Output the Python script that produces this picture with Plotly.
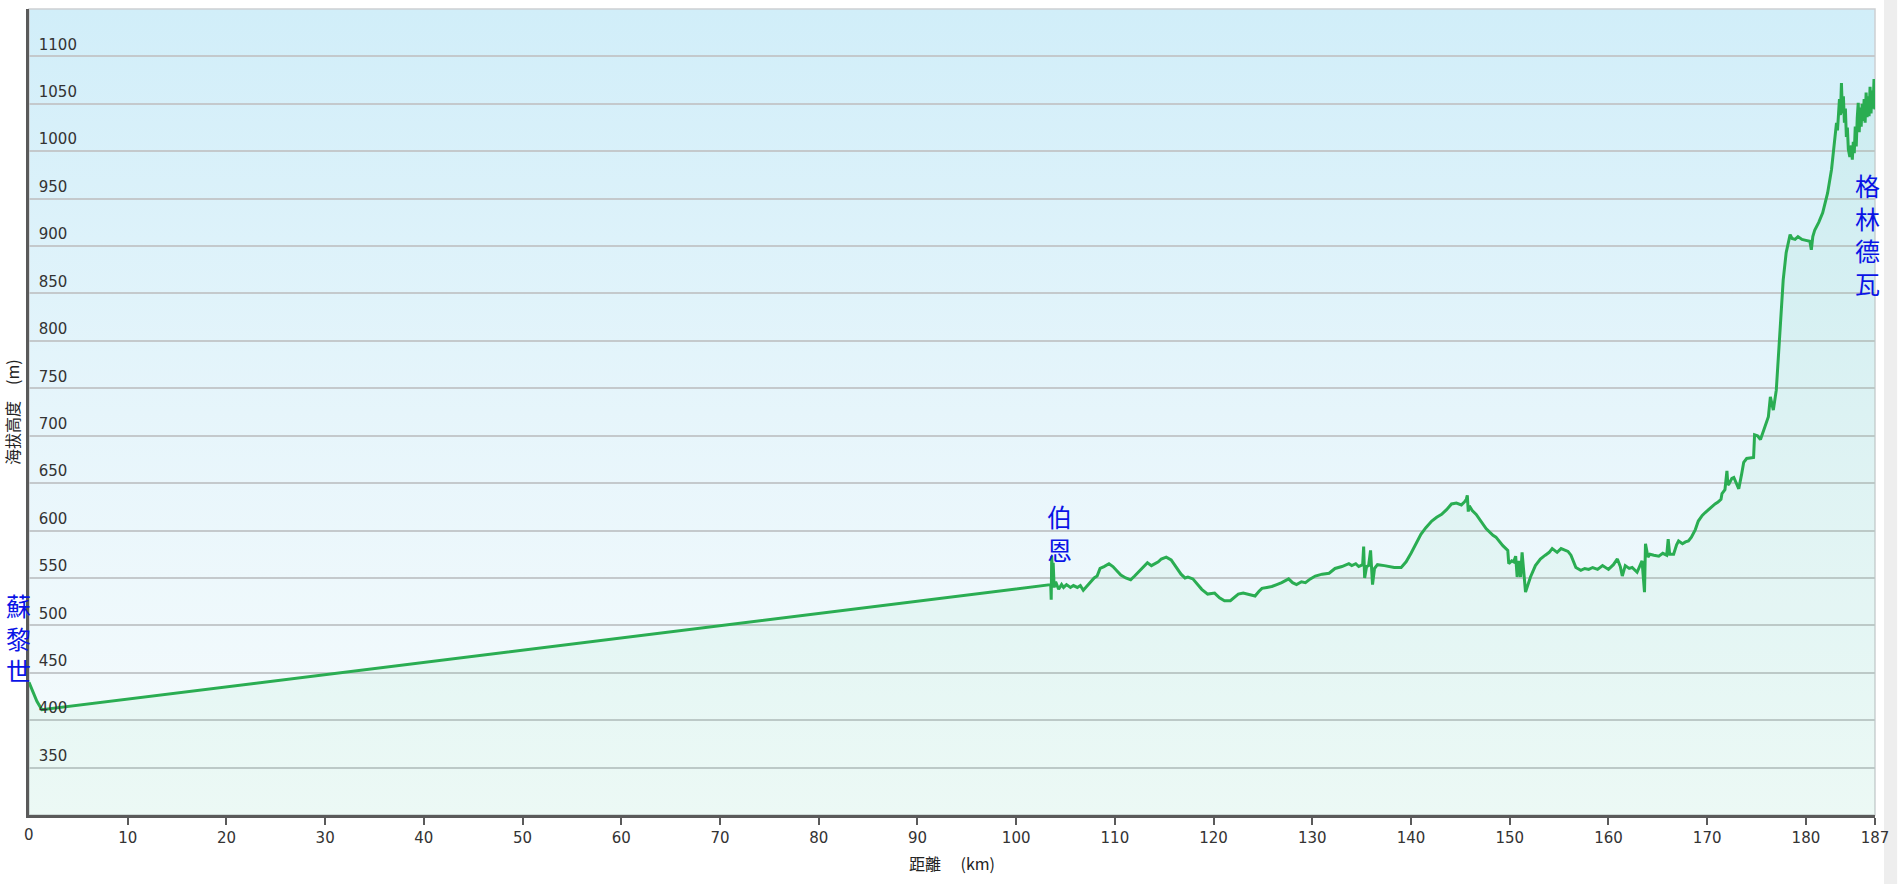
import base64
import plotly.graph_objects as go

# ---- data (distance in km, elevation in m) ----
dist_km = [
    0.0, 0.3, 0.8, 1.3, 103.5, 103.55, 103.6, 103.7, 103.75, 103.85, 104.0, 104.3, 104.6, 104.8,
    105.1, 105.5, 105.8, 106.2, 106.5, 106.8, 107.2, 107.5, 107.9, 108.2, 108.5, 108.9, 109.4,
    109.8, 110.2, 110.6, 111.1, 111.6, 112.0, 112.3, 112.8, 113.3, 113.7, 114.0, 114.4, 114.7,
    115.2, 115.7, 116.2, 116.7, 117.1, 117.4, 117.9, 118.4, 118.8, 119.4, 119.8, 120.1, 120.6,
    121.1, 121.7, 122.1, 122.5, 123.0, 123.4, 124.2, 124.6, 124.9, 125.4, 125.9, 126.4, 126.9,
    127.6, 128.0, 128.4, 128.9, 129.3, 129.8, 130.3, 131.0, 131.7, 132.3, 133.0, 133.7, 134.0,
    134.4, 134.7, 135.1, 135.2, 135.3, 135.5, 135.7, 135.9, 136.1, 136.3, 136.6, 137.3, 137.8,
    138.3, 139.0, 139.5, 140.0, 140.5, 141.0, 141.5, 142.1, 142.6, 143.1, 143.6, 144.1, 144.6,
    145.1, 145.4, 145.6, 145.7, 145.8, 145.9, 146.2, 146.6, 147.1, 147.6, 148.3, 148.6, 149.3,
    149.8, 149.9, 150.2, 150.4, 150.6, 150.75, 150.9, 151.1, 151.25, 151.6, 152.1, 152.6, 153.1,
    153.6, 154.0, 154.3, 154.8, 155.2, 155.5, 155.9, 156.2, 156.7, 157.2, 157.6, 158.0, 158.4,
    158.9, 159.4, 160.0, 160.5, 160.9, 161.2, 161.4, 161.7, 162.1, 162.4, 162.9, 163.4, 163.65,
    163.75, 164.0, 164.2, 164.6, 165.1, 165.5, 165.9, 166.05, 166.2, 166.6, 166.9, 167.1, 167.5,
    167.8, 168.1, 168.4, 168.8, 169.1, 169.5, 169.8, 170.2, 170.5, 170.8, 171.1, 171.4, 171.5,
    171.8, 172.0, 172.1, 172.2, 172.5, 172.7, 173.0, 173.2, 173.5, 173.7, 174.0, 174.4, 174.7,
    174.8, 175.1, 175.4, 175.7, 175.9, 176.2, 176.4, 176.6, 176.7, 177.0, 177.2, 177.4, 177.6,
    177.7, 178.0, 178.4, 178.6, 178.9, 179.2, 179.6, 180.0, 180.4, 180.55, 180.7, 180.9, 181.3,
    181.7, 182.0, 182.2, 182.6, 182.9, 183.1, 183.2, 183.3, 183.4, 183.5, 183.6, 183.7, 183.8,
    183.9, 184.0, 184.1, 184.2, 184.3, 184.45, 184.6, 184.7, 184.8, 184.9, 185.0, 185.1, 185.2,
    185.3, 185.4, 185.5, 185.6, 185.7, 185.8, 185.9, 186.0, 186.1, 186.2, 186.3, 186.4, 186.5,
    186.6, 186.7, 186.8, 186.9, 187.0,
]
elev_m = [
    440, 432, 420, 411, 543, 527, 573, 548, 566, 540, 546, 538, 543, 540,
    543, 540, 542, 540, 542, 537, 542, 545, 550, 552, 560, 562, 565,
    562, 558, 553, 550, 548, 552, 555, 560, 566, 563, 565, 567, 570,
    572, 569, 561, 554, 550, 551, 549, 543, 538, 533, 534, 534, 529,
    526, 526, 530, 533, 534, 533, 531, 536, 539, 540, 541, 543, 545,
    549, 545, 543, 546, 545, 549, 552, 554, 555, 560, 562, 565, 563,
    565, 562, 564, 583, 550, 562, 563, 579, 543, 560, 564, 563, 562,
    561, 561, 567, 576, 586, 596, 603, 610, 614, 617, 622, 628, 629,
    627, 630, 633, 637, 620, 626, 621, 617, 610, 602, 595, 593, 584,
    579, 565, 568, 567, 573, 551, 568, 551, 577, 535, 551, 563, 570,
    574, 577, 581, 577, 581, 580, 578, 574, 561, 558, 560, 559, 561,
    559, 563, 559, 564, 570, 562, 552, 563, 560, 561, 556, 568, 535,
    586, 572, 575, 574, 573, 576, 574, 591, 575, 575, 585, 589, 586,
    588, 589, 593, 601, 610, 616, 619, 623, 626, 628, 630, 633, 639,
    643, 663, 648, 649, 655, 656, 648, 644, 660, 672, 676, 677, 677,
    701, 700, 696, 705, 711, 720, 741, 733, 727, 748, 780, 815, 845,
    864, 893, 912, 908, 907, 910, 907, 906, 905, 896, 910, 917, 925,
    935, 948, 956, 981, 1012, 1030, 1022, 1044, 1055, 1038, 1072, 1040, 1058,
    1030, 1045, 1015, 1025, 1002, 994, 1006, 991, 1010, 998, 1026, 1005, 1035,
    1051, 1020, 1046, 1026, 1050, 1032, 1055, 1030, 1062, 1036, 1058, 1037, 1068,
    1040, 1064, 1045, 1076, 1044, 1060,
]

x_tick_vals = [0, 10, 20, 30, 40, 50, 60, 70, 80, 90, 100, 110, 120, 130, 140, 150, 160, 170, 180, 187]
y_tick_vals = [350, 400, 450, 500, 550, 600, 650, 700, 750, 800, 850, 900, 950, 1000, 1050, 1100]

place_names = ["蘇<br>黎<br>世", "伯<br>恩", "格<br>林<br>德<br>瓦"]
place_km = [-1.1, 104.4, 186.2]
place_elev = [487, 598, 913]

x_title = "距離　 (km)"
y_title = "海拔高度　(m)"

# ---- styling ----
FONT = "Verdana, DejaVu Sans, Noto Sans CJK TC, sans-serif"
CJK_FONT = "Noto Sans CJK TC, Noto Sans CJK SC, sans-serif"
TITLE_FONT = "Noto Sans CJK TC, DejaVu Sans, sans-serif"
LINE_GREEN = "#2aad52"
X0, X1 = 0, 187

svg = (
    '<svg xmlns="http://www.w3.org/2000/svg" width="10" height="100" viewBox="0 0 10 100" '
    'preserveAspectRatio="none"><defs><linearGradient id="g" x1="0" y1="0" x2="0" y2="1">'
    '<stop offset="0" stop-color="#d1eef9"/><stop offset="0.5" stop-color="#e6f5fb"/>'
    '<stop offset="1" stop-color="#f7fcfd"/></linearGradient></defs>'
    '<rect width="10" height="100" fill="url(#g)"/></svg>'
)
svg_uri = "data:image/svg+xml;base64," + base64.b64encode(svg.encode()).decode()

fig = go.Figure()
fig.add_trace(go.Scatter(
    x=dist_km, y=elev_m, mode="lines",
    line=dict(color=LINE_GREEN, width=3),
    fill="tozeroy", fillcolor="rgba(60,200,120,0.06)",
    hoverinfo="x+y", showlegend=False,
))

for name, xk, ye in zip(place_names, place_km, place_elev):
    fig.add_annotation(
        x=(xk - X0) / (X1 - X0), y=ye, xref="paper", yref="y", text=name, showarrow=False,
        xanchor="center", yanchor="middle",
        font=dict(family=CJK_FONT, size=25, color="#0a14e6"),
    )

# "0" tick label (plotly hides the x label at the y-axis when y labels are inside)
fig.add_annotation(
    x=0, y=0, xref="paper", yref="paper", text=str(x_tick_vals[0]), showarrow=False,
    xanchor="center", yanchor="top", yshift=-9,
    font=dict(family=FONT, size=15, color="#333333"),
)

# y-axis title placed left of the axis line
fig.add_annotation(
    x=-0.0092, y=0.5, xref="paper", yref="paper", text=y_title, showarrow=False,
    textangle=-90, xanchor="center", yanchor="middle",
    font=dict(family=TITLE_FONT, size=16, color="#222222"),
)

fig.update_layout(
    width=1898, height=884,
    margin=dict(l=29, r=18, t=9, b=69),
    paper_bgcolor="white",
    plot_bgcolor="rgba(0,0,0,0)",
    font=dict(family=FONT, size=15, color="#333333"),
    images=[dict(
        source=svg_uri, xref="paper", yref="paper", x=0, y=1,
        sizex=1, sizey=1, sizing="stretch", xanchor="left", yanchor="top",
        layer="below",
    )],
    shapes=[
        dict(type="rect", xref="paper", yref="paper", x0=0, x1=1, y0=0, y1=1,
             line=dict(color="#cdd0d2", width=1.5), layer="below"),
        dict(type="rect", xref="paper", yref="paper", x0=1.0049, x1=1.012, y0=-0.2, y1=1.05,
             line=dict(width=0), fillcolor="#eeeeee", layer="below"),
    ],
)

fig.update_xaxes(
    range=[X0, X1], tickvals=x_tick_vals, ticktext=[str(v) for v in x_tick_vals],
    showgrid=False, zeroline=False,
    showline=True, linecolor="#5a5a5a", linewidth=2.5,
    ticks="outside", ticklen=7, tickwidth=1.5, tickcolor="#5a5a5a",
    tickfont=dict(family=FONT, size=15, color="#333333"),
    title=dict(text=x_title, font=dict(family=TITLE_FONT, size=16, color="#222222"), standoff=14),
)
fig.update_yaxes(
    range=[300, 1150], tickvals=y_tick_vals, ticktext=[str(v) for v in y_tick_vals],
    showgrid=True, gridcolor="#c4c9cc", gridwidth=1.6, zeroline=False,
    showline=True, linecolor="#5a5a5a", linewidth=2.5,
    ticks="", ticklabelposition="inside", ticklabelstandoff=10, ticklabelshift=-12,
    tickfont=dict(family=FONT, size=15, color="#333333"),
)

fig.write_html("out.html", config={"displayModeBar": False},
               post_script="document.body.style.margin='0';")
